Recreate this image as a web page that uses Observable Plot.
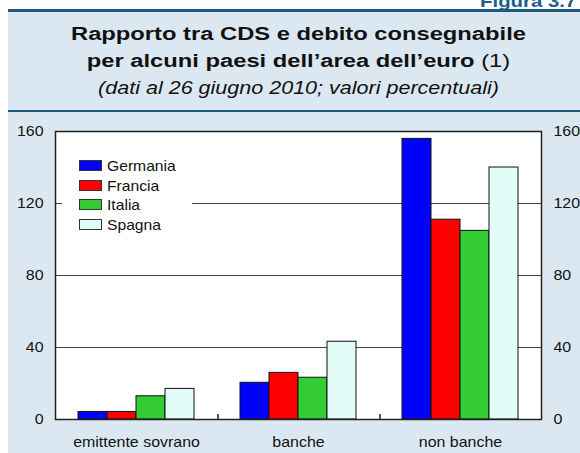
<!DOCTYPE html>
<html>
<head>
<meta charset="utf-8">
<script src="https://cdn.jsdelivr.net/npm/d3@7"></script>
<script src="https://cdn.jsdelivr.net/npm/@observablehq/plot@0.6"></script>
<style>
  html, body { margin: 0; padding: 0; background: #ffffff; }
  #wrap { position: relative; width: 580px; height: 453px; overflow: hidden; background: #ffffff;
          font-family: "Liberation Sans", Arial, Helvetica, sans-serif; color: #111; }
  #panel { position: absolute; left: 8px; top: 10px; width: 572px; height: 443px; background: #dce8f1; }
  #topRule { position: absolute; left: 8px; top: 9px; width: 572px; height: 3px; background: #1d5a7c; }
  #midRule { position: absolute; left: 8px; top: 110px; width: 572px; height: 1.5px; background: #1d5a7c; }
  #figlabel { position: absolute; left: 480px; top: -8px; font-size: 17px; font-weight: bold; color: #1d5f8c; white-space: nowrap; transform: scaleX(1.2); transform-origin: left center; }
  .tl { position: absolute; left: 0; width: 597px; text-align: center; white-space: nowrap; transform-origin: 298.5px 50%; }
  #t1 { top: 23px; font-size: 18.7px; font-weight: bold; transform: scaleX(1.27); }
  #t2 { top: 50px; font-size: 18.7px; font-weight: bold; transform: scaleX(1.27); }
  #t2 span { font-weight: normal; }
  #t3 { top: 78px; font-size: 17.5px; font-style: italic; transform: scaleX(1.23); }
  #chart { position: absolute; left: 0; top: 111px; }
  #legend { position: absolute; left: 62px; top: 147px; width: 130px; height: 86px; background: #ffffff; }
  .lrow { position: absolute; left: 17px; height: 12px; font-size: 14.5px; line-height: 12px; white-space: nowrap; }
  .lsw { display: inline-block; width: 21px; height: 9px; border: 1px solid #333; vertical-align: top; margin-right: 5px; }
  .ltx { display: inline-block; transform: scaleX(1.08); transform-origin: left center; }
</style>
</head>
<body>
<div id="wrap">
  <div id="panel"></div>
  <div id="topRule"></div>
  <div id="figlabel">Figura 3.7</div>
  <div class="tl" id="t1">Rapporto tra CDS e debito consegnabile</div>
  <div class="tl" id="t2">per alcuni paesi dell’area dell’euro <span>(1)</span></div>
  <div class="tl" id="t3">(dati al 26 giugno 2010; valori percentuali)</div>
  <div id="midRule"></div>
  <div id="chart"></div>
  <div id="legend"></div>
</div>
<script>
// ---- data ----
const categories = ["emittente sovrano", "banche", "non banche"];
const countries = ["Germania", "Francia", "Italia", "Spagna"];
const colors = ["#0000ff", "#ff0000", "#33cc33", "#e2fdf8"];
const germania = [4.2, 20.4, 155.9];
const francia  = [4.2, 25.9, 111.0];
const italia   = [12.9, 23.2, 104.8];
const spagna   = [17.0, 43.2, 140.0];
const yTicks = [0, 40, 80, 120, 160];
const gridTicks = [40, 80, 120];

const series = [germania, francia, italia, spagna];
const rows = [];
categories.forEach((c, i) => countries.forEach((k, j) => rows.push({category: c, country: k, value: series[j][i]})));

// ---- layout ----
const W = 580, H = 342, mL = 54, mR = 38, mT = 20, mB = 34;
const outerPad = 0.75;
const facetW = (W - mL - mR) / categories.length;
const step = facetW / (countries.length + 2 * outerPad);
const sepDx = -(outerPad + 0.5) * step;
const separators = categories.slice(1).map(c => ({category: c}));

const chart = Plot.plot({
  width: W, height: H,
  marginLeft: mL, marginRight: mR, marginTop: mT, marginBottom: mB,
  style: {fontFamily: "Liberation Sans, Arial, sans-serif", fontSize: "14px", background: "transparent", color: "#111"},
  fx: {domain: categories, padding: 0, label: null},
  x: {domain: countries, paddingInner: 0, paddingOuter: outerPad, axis: null},
  y: {domain: [0, 160], axis: null},
  color: {domain: countries, range: colors},
  marks: [
    Plot.frame({fill: "#ffffff", stroke: null, facet: "super"}),
    Plot.gridY(gridTicks, {stroke: "#444", strokeOpacity: 1, strokeWidth: 1}),
    Plot.barY(rows, {fx: "category", x: "country", y: "value", fill: "country", stroke: "#111", strokeWidth: 1}),
    Plot.ruleX(separators, {fx: "category", x: () => countries[0], y1: 0, y2: 0, dx: sepDx, insetTop: -5, stroke: "#222", strokeWidth: 1.5}),
    Plot.frame({stroke: "#222", strokeWidth: 1.5, facet: "super"}),
    Plot.axisY(yTicks, {anchor: "left", tickSize: 0, tickPadding: 12, fontSize: 14, label: null}),
    Plot.axisY(yTicks, {anchor: "right", tickSize: 0, tickPadding: 12, fontSize: 14, label: null}),
    Plot.axisFx({anchor: "bottom", tickSize: 0, tickPadding: 18, fontSize: 14, label: null})
  ]
});
document.getElementById("chart").appendChild(chart);

// widen the axis labels slightly to match the reference's horizontally stretched lettering
d3.select(chart).selectAll("text").each(function() {
  const t = this.getAttribute("transform");
  if (t) this.setAttribute("transform", t + " scale(1.14,1)");
  else {
    const x = this.getAttribute("x") || 0, y = this.getAttribute("y") || 0;
    this.removeAttribute("x"); this.removeAttribute("y");
    this.setAttribute("transform", `translate(${x},${y}) scale(1.14,1)`);
  }
});

// ---- legend ----
const legend = document.getElementById("legend");
countries.forEach((k, j) => {
  const r = document.createElement("div");
  r.className = "lrow";
  r.style.top = (13 + j * 19.7) + "px";
  const sw = document.createElement("span");
  sw.className = "lsw";
  sw.style.background = colors[j];
  r.appendChild(sw);
  const tx = document.createElement("span");
  tx.className = "ltx";
  tx.textContent = k;
  r.appendChild(tx);
  legend.appendChild(r);
});
</script>
</body>
</html>
